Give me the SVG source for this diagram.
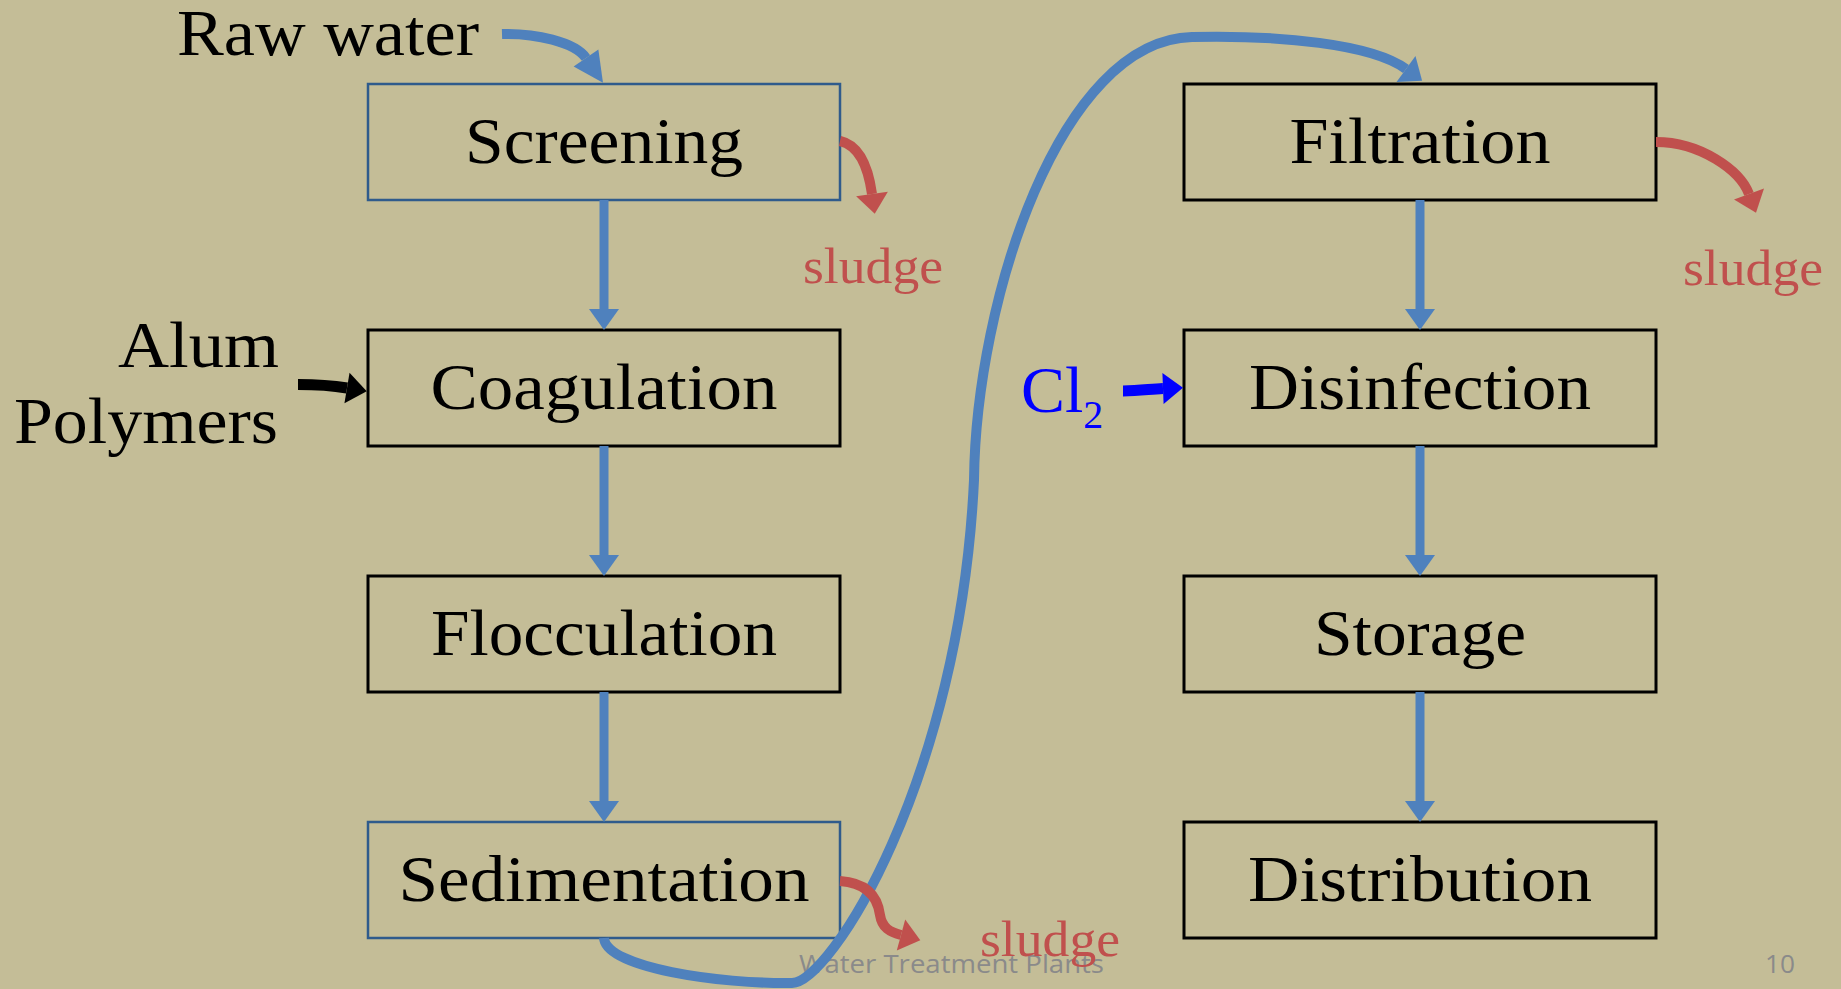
<svg xmlns="http://www.w3.org/2000/svg" width="1841" height="989" viewBox="0 0 1841 989">
<style>
.bg{fill:#c4bd97}
.box{fill:#c4bd97;stroke:#000;stroke-width:3}
.boxb{fill:#c4bd97;stroke:#2f5b8c;stroke-width:2.5}
.t{font-family:"Liberation Serif","Times New Roman",serif;font-size:66px;fill:#000}
.sl{font-family:"Liberation Serif","Times New Roman",serif;font-size:50px;fill:#c0504d}
.ft{font-family:"Open Sans","Liberation Sans",sans-serif;font-size:26px;fill:#8a8a8a}
.flow{fill:none;stroke:#4f81bd;stroke-width:9}
.flowc{fill:none;stroke:#4f81bd;stroke-width:10}
.red{fill:none;stroke:#c0504d;stroke-width:10}
.blk{fill:none;stroke:#000;stroke-width:11}
.cl{fill:none;stroke:#0000ff;stroke-width:11}
</style>
<defs>
<marker id="hv" markerUnits="userSpaceOnUse" orient="auto" viewBox="0 -16 22 32" markerWidth="22" markerHeight="32" refX="0" refY="0" overflow="visible"><path d="M0,-15 L21,0 L0,15 z" fill="#4f81bd"/></marker>
<marker id="hraw" markerUnits="userSpaceOnUse" orient="auto" viewBox="0 -16 31 32" markerWidth="31" markerHeight="32" refX="0" refY="0" overflow="visible"><path d="M0,-15 L30,0 L0,15 z" fill="#4f81bd"/></marker>
<marker id="hc" markerUnits="userSpaceOnUse" orient="auto" viewBox="0 -17 21 34" markerWidth="21" markerHeight="34" refX="0" refY="0" overflow="visible"><path d="M0,-16 L20,0 L0,16 z" fill="#4f81bd"/></marker>
<marker id="hr" markerUnits="userSpaceOnUse" orient="auto" viewBox="0 -17 21 34" markerWidth="21" markerHeight="34" refX="0" refY="0" overflow="visible"><path d="M0,-16 L20,0 L0,16 z" fill="#c0504d"/></marker>
<marker id="hk" markerUnits="userSpaceOnUse" orient="auto" viewBox="0 -16 21 32" markerWidth="21" markerHeight="32" refX="0" refY="0" overflow="visible"><path d="M0,-15.5 L20,0 L0,15.5 z" fill="#000"/></marker>
<marker id="hb" markerUnits="userSpaceOnUse" orient="auto" viewBox="0 -16 21 32" markerWidth="21" markerHeight="32" refX="0" refY="0" overflow="visible"><path d="M0,-15.5 L20,0 L0,15.5 z" fill="#0000ff"/></marker>
</defs>
<rect class="bg" x="0" y="0" width="1841" height="989"/>

<g id="footer">
<text class="ft" x="799" y="973" textLength="305" lengthAdjust="spacingAndGlyphs">Water Treatment Plants</text>
<text class="ft" x="1765" y="973" textLength="30" lengthAdjust="spacingAndGlyphs">10</text>
</g>

<g id="screening"><rect class="boxb" x="368" y="84" width="472" height="116"/><text class="t" x="604" y="163" text-anchor="middle" textLength="278" lengthAdjust="spacingAndGlyphs">Screening</text></g>
<g id="coagulation"><rect class="box" x="368" y="330" width="472" height="116"/><text class="t" x="604" y="409" text-anchor="middle" textLength="347" lengthAdjust="spacingAndGlyphs">Coagulation</text></g>
<g id="flocculation"><rect class="box" x="368" y="576" width="472" height="116"/><text class="t" x="604" y="655" text-anchor="middle" textLength="346" lengthAdjust="spacingAndGlyphs">Flocculation</text></g>
<g id="sedimentation"><rect class="boxb" x="368" y="822" width="472" height="116"/><text class="t" x="604" y="901" text-anchor="middle" textLength="411" lengthAdjust="spacingAndGlyphs">Sedimentation</text></g>
<g id="filtration"><rect class="box" x="1184" y="84" width="472" height="116"/><text class="t" x="1420" y="163" text-anchor="middle" textLength="261" lengthAdjust="spacingAndGlyphs">Filtration</text></g>
<g id="disinfection"><rect class="box" x="1184" y="330" width="472" height="116"/><text class="t" x="1420" y="409" text-anchor="middle" textLength="342" lengthAdjust="spacingAndGlyphs">Disinfection</text></g>
<g id="storage"><rect class="box" x="1184" y="576" width="472" height="116"/><text class="t" x="1420" y="655" text-anchor="middle" textLength="212" lengthAdjust="spacingAndGlyphs">Storage</text></g>
<g id="distribution"><rect class="box" x="1184" y="822" width="472" height="116"/><text class="t" x="1420" y="901" text-anchor="middle" textLength="344" lengthAdjust="spacingAndGlyphs">Distribution</text></g>

<g id="labels">
<text class="t" x="479" y="55" text-anchor="end" textLength="302" lengthAdjust="spacingAndGlyphs">Raw water</text>
<text class="t" x="279" y="367" text-anchor="end" textLength="161" lengthAdjust="spacingAndGlyphs">Alum</text>
<text class="t" x="278" y="443" text-anchor="end" textLength="264" lengthAdjust="spacingAndGlyphs">Polymers</text>
<text class="t" x="1021" y="412" fill="#0000ff" style="fill:#0000ff">Cl<tspan font-size="40" dy="15.5">2</tspan></text>
<text class="sl" x="803" y="283" textLength="140" lengthAdjust="spacingAndGlyphs">sludge</text>
<text class="sl" x="1683" y="285" textLength="140" lengthAdjust="spacingAndGlyphs">sludge</text>
<text class="sl" x="980" y="956" textLength="140" lengthAdjust="spacingAndGlyphs">sludge</text>
</g>

<g id="connectors">
<path class="flow" d="M604 200 V309" marker-end="url(#hv)"/>
<path class="flow" d="M604 446 V555" marker-end="url(#hv)"/>
<path class="flow" d="M604 692 V801" marker-end="url(#hv)"/>
<path class="flow" d="M1420 200 V309" marker-end="url(#hv)"/>
<path class="flow" d="M1420 446 V555" marker-end="url(#hv)"/>
<path class="flow" d="M1420 692 V801" marker-end="url(#hv)"/>
<path class="flowc" d="M502 34 C535 33 575 42 586 58" marker-end="url(#hraw)"/>
<path class="flowc" d="M604 938 C606 968 720 984 792 983 C830 983 960 780 974 480 C976 300 1060 40 1192 37 C1280 35 1372 44 1406 69" marker-end="url(#hc)"/>
<path class="blk" d="M298 384.5 C320 384.5 335 386 347 388" marker-end="url(#hk)"/>
<path class="cl" d="M1123 391 C1140 391 1150 389 1163 388.5" marker-end="url(#hb)"/>
<path class="red" d="M840 141 C858 145 868 165 872 194" marker-end="url(#hr)"/>
<path class="red" d="M1656 142 C1700 142 1740 170 1749 194" marker-end="url(#hr)"/>
<path class="red" d="M840 881 C870 883 878 900 880 915 C882 928 890 932 901 935" marker-end="url(#hr)"/>
</g>
</svg>
